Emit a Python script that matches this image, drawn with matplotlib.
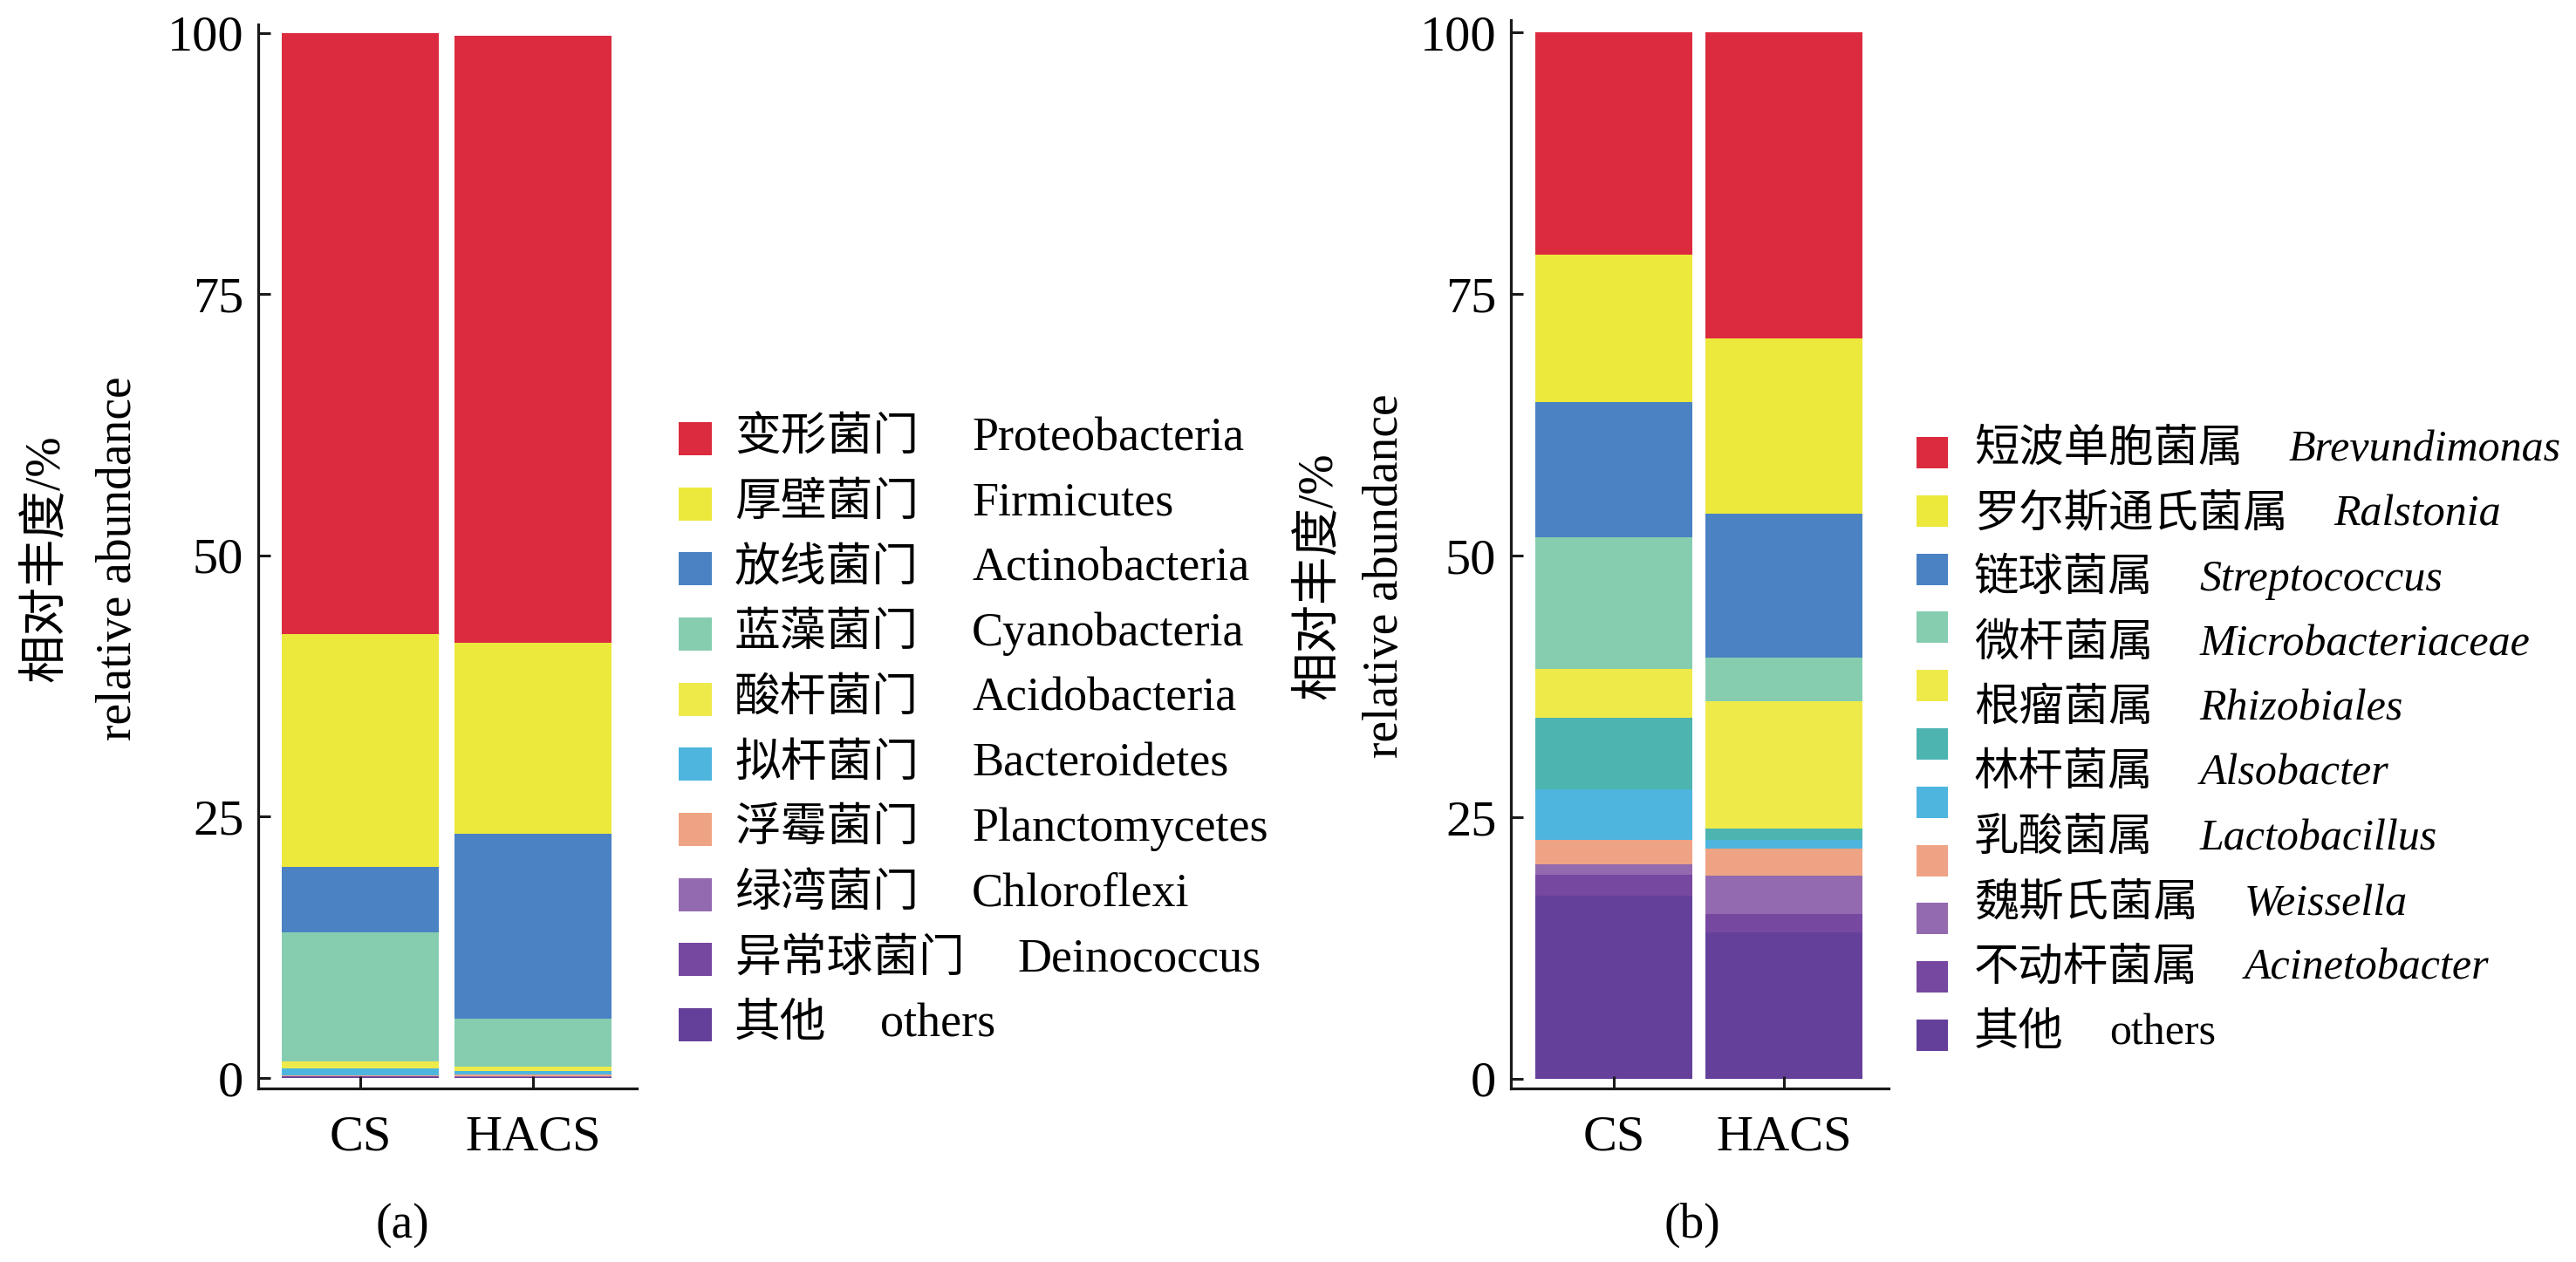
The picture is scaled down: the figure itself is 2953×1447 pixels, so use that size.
import numpy as np
import matplotlib
matplotlib.use('Agg')
import matplotlib.pyplot as plt
from matplotlib.patches import Rectangle

plt.rcParams['font.family'] = ['Liberation Serif', 'Noto Sans CJK SC']

groups = ['CS', 'HACS']

# ---- panel (a): phylum level, stacked bottom -> top
phyla_cn = ['其他', '异常球菌门', '绿湾菌门', '浮霉菌门', '拟杆菌门',
            '酸杆菌门', '蓝藻菌门', '放线菌门', '厚壁菌门', '变形菌门']
phyla_en = ['others', 'Deinococcus', 'Chloroflexi', 'Planctomycetes', 'Bacteroidetes',
            'Acidobacteria', 'Cyanobacteria', 'Actinobacteria', 'Firmicutes', 'Proteobacteria']
phyla_cs = [0.10, 0.05, 0.05, 0.05, 0.70, 0.60, 12.35, 6.30, 22.30, 57.50]
phyla_hacs = [0.05, 0.05, 0.10, 0.10, 0.40, 0.40, 4.60, 17.70, 18.20, 58.10]
phyla_colors = ['#65409A', '#7648A0', '#936AB0', '#EFA385', '#4EB5DE',
                '#EEEA4A', '#86CDB0', '#4A82C3', '#ECE83C', '#DC2B3F']

# ---- panel (b): genus level, stacked bottom -> top (one colour has no label)
genus_cn = ['其他', '不动杆菌属', '魏斯氏菌属', '乳酸菌属', '',
            '林杆菌属', '根瘤菌属', '微杆菌属', '链球菌属', '罗尔斯通氏菌属', '短波单胞菌属']
genus_en = ['others', 'Acinetobacter', 'Weissella', 'Lactobacillus', '',
            'Alsobacter', 'Rhizobiales', 'Microbacteriaceae', 'Streptococcus', 'Ralstonia', 'Brevundimonas']
genus_cs = [17.5, 2.0, 1.0, 2.3, 4.9, 6.8, 4.7, 12.6, 12.9, 14.1, 21.2]
genus_hacs = [14.0, 1.75, 3.65, 2.6, 0.8, 1.1, 12.2, 4.2, 13.7, 16.8, 29.2]
genus_colors = ['#65409A', '#7648A0', '#936AB0', '#EFA385', '#4EB5DE',
                '#4DB4B0', '#EEEA4A', '#86CDB0', '#4A82C3', '#ECE83C', '#DC2B3F']

W, H = 2953, 1447
fig = plt.figure(figsize=(W / 100, H / 100), dpi=100)


def fx(x):
    return x / W


def fy(y):
    return 1 - y / H


def stacked(ax, cs, hacs, colors, width):
    x = np.arange(len(groups))
    bottom = np.zeros(len(groups))
    for v_cs, v_hacs, c in zip(cs, hacs, colors):
        vals = np.array([v_cs, v_hacs])
        ax.bar(x, vals, width=width, bottom=bottom, color=c, linewidth=0)
        bottom += vals
    ax.set_xticks(x)
    ax.set_xticklabels(groups)
    ax.set_yticks([0, 25, 50, 75, 100])
    for s in ['top', 'right']:
        ax.spines[s].set_visible(False)
    for s in ['left', 'bottom']:
        ax.spines[s].set_linewidth(2.3)
        ax.spines[s].set_color('#1a1a1a')
    ax.tick_params(axis='both', direction='in', length=10, width=2.2, labelsize=42, color='#1a1a1a')
    ax.tick_params(axis='y', pad=12)
    ax.tick_params(axis='x', pad=22)


ax_a = fig.add_axes([fx(296), fy(1248), 434 / W, (1248 - 28) / H])
stacked(ax_a, phyla_cs, phyla_hacs, phyla_colors, 0.91)
ax_a.set_xlim(-0.59, 1.60)
ax_a.set_ylim(-1.0, 100.8)

ax_b = fig.add_axes([fx(1732), fy(1248), 433 / W, (1248 - 23) / H])
stacked(ax_b, genus_cs, genus_hacs, genus_colors, 0.92)
ax_b.set_xlim(-0.605, 1.615)
ax_b.set_ylim(-0.92, 101.2)

# y labels (two lines each)
for x1, x2, yc in [(53, 136, 640), (1512, 1588, 660)]:
    fig.text(fx(x1), fy(yc), '相对丰度/%', rotation=90, ha='center', va='center', fontsize=40)
    fig.text(fx(x2), fy(yc), 'relative abundance', rotation=90, ha='center', va='center', fontsize=40)

# panel captions
fig.text(fx(461), fy(1405), '(a)', ha='center', va='center', fontsize=40)
fig.text(fx(1940), fy(1405), '(b)', ha='center', va='center', fontsize=40)

# legend (a)
n = len(phyla_cn)
for i in range(n):
    k = n - 1 - i
    yc = 503 + i * (1175 - 503) / (n - 1)
    fig.add_artist(Rectangle((fx(778), fy(yc + 19)), 38 / W, 38 / H,
                             transform=fig.transFigure, color=phyla_colors[k], lw=0))
    t = fig.text(fx(842), fy(yc), phyla_cn[k], ha='left', va='center', fontsize=38)
    ax_a.annotate(phyla_en[k], xy=(1, 0.5), xycoords=t, xytext=(44, 0),
                  textcoords='offset points', ha='left', va='center', fontsize=39,
                  annotation_clip=False)

# legend (b): 11 colour squares, 10 text rows
m = len(genus_colors)
for i in range(m):
    k = m - 1 - i
    yc = 519 + i * (1187 - 519) / (m - 1)
    fig.add_artist(Rectangle((fx(2197), fy(yc + 18)), 36 / W, 36 / H,
                             transform=fig.transFigure, color=genus_colors[k], lw=0))
rows = [(c, e) for c, e in zip(genus_cn[::-1], genus_en[::-1]) if c]
for i, (cn, en) in enumerate(rows):
    yc = 516 + i * (1185 - 516) / (len(rows) - 1)
    t = fig.text(fx(2263), fy(yc), cn, ha='left', va='center', fontsize=37)
    ax_b.annotate(en, xy=(1, 0.5), xycoords=t, xytext=(38, 0),
                  textcoords='offset points', ha='left', va='center', fontsize=36,
                  style='normal' if en == 'others' else 'italic',
                  annotation_clip=False)

fig.savefig('out.png', dpi=100)
